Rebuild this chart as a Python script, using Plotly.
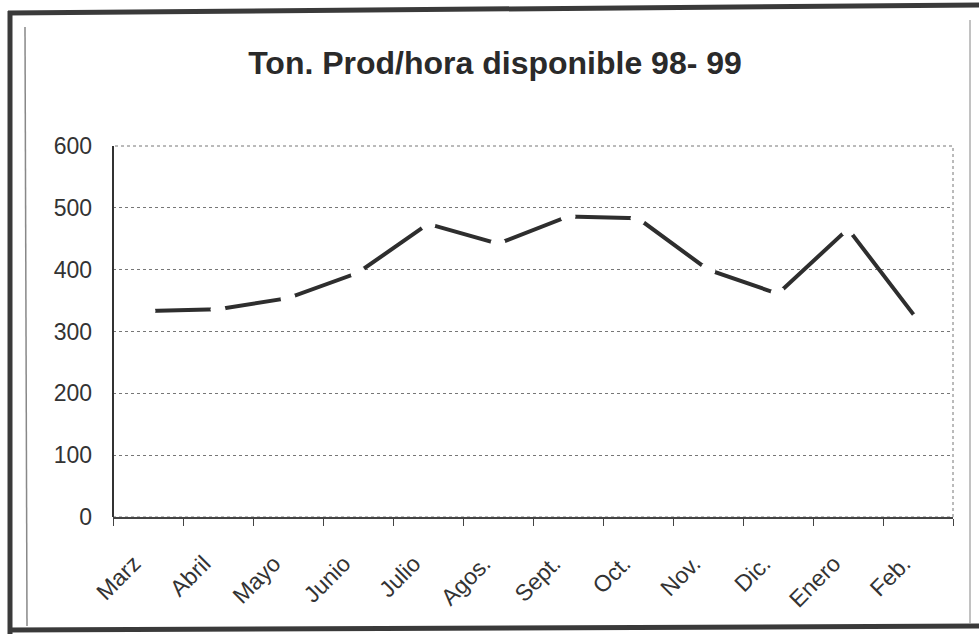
import plotly.graph_objects as go

# Monthly available production, tonnes per hour, season 98-99
months = ["Marz", "Abril", "Mayo", "Junio", "Julio", "Agos.", "Sept.",
          "Oct.", "Nov.", "Dic.", "Enero", "Feb."]
ton_hora = [333, 336, 354, 395, 474, 442, 486, 483, 400, 361, 466, 318]
y_ticks = [0, 100, 200, 300, 400, 500, 600]

W, H = 979, 634
L, R, T, B = 113, 953, 146, 517  # plot area in pixels


def px_x(x):
    return (x - L) / (R - L)


def px_y(y):
    return (B - y) / (B - T)


fig = go.Figure()

# series line; white dots at each month break the stroke at the vertices
fig.add_trace(go.Scatter(
    x=months, y=ton_hora, mode="lines+markers",
    line=dict(color="#2e2e2e", width=4),
    marker=dict(color="white", size=15, line=dict(width=0)),
    hoverinfo="x+y", showlegend=False,
))

shapes = []
# dotted plot-area border
shapes.append(dict(type="rect", xref="paper", yref="paper", x0=0, x1=1, y0=0, y1=1,
                   line=dict(color="#777777", width=1, dash="dot"), layer="below"))
# solid value axis on the left
shapes.append(dict(type="line", xref="paper", yref="paper", x0=0, x1=0, y0=0, y1=1,
                   line=dict(color="#333333", width=2)))
# outer page frame (dark) and chart-area outline (thin)
frame = "#3a3a3a"
shapes.append(dict(type="line", xref="paper", yref="paper",
                   x0=px_x(8), y0=px_y(13), x1=px_x(979), y1=px_y(5),
                   line=dict(color=frame, width=5)))
shapes.append(dict(type="line", xref="paper", yref="paper",
                   x0=px_x(10), y0=px_y(11), x1=px_x(10), y1=px_y(634),
                   line=dict(color=frame, width=5)))
shapes.append(dict(type="line", xref="paper", yref="paper",
                   x0=px_x(8), y0=px_y(630), x1=px_x(979), y1=px_y(626),
                   line=dict(color=frame, width=5)))
shapes.append(dict(type="line", xref="paper", yref="paper",
                   x0=px_x(25), y0=px_y(27), x1=px_x(27), y1=px_y(626),
                   line=dict(color="#888888", width=1.5)))
shapes.append(dict(type="line", xref="paper", yref="paper",
                   x0=px_x(970), y0=px_y(20), x1=px_x(970), y1=px_y(624),
                   line=dict(color="#999999", width=1.2)))

fig.update_layout(
    width=W, height=H,
    margin=dict(l=L, r=W - R, t=T, b=H - B, pad=0),
    paper_bgcolor="white", plot_bgcolor="white",
    title=dict(text="<b>Ton. Prod/hora disponible 98- 99</b>",
               x=495 / W, xanchor="center", y=1 - 63 / H, yanchor="middle",
               font=dict(family="Liberation Sans, Arial", size=32, color="#2a2a2a")),
    font=dict(family="Liberation Sans, Arial", color="#333333"),
    shapes=shapes,
    xaxis=dict(
        type="category", range=[-0.5, len(months) - 0.5],
        showgrid=False, zeroline=False,
        showline=True, linecolor="#444444", linewidth=2,
        ticks="outside", tickson="boundaries", ticklen=7, tickcolor="#444444", tickwidth=1,
        tickangle=-45, tickfont=dict(size=23, color="#333333"),
        ticklabelstandoff=22, ticklabelshift=-14,
    ),
    yaxis=dict(
        range=[0, 600], tickvals=y_ticks, ticktext=[str(v) for v in y_ticks],
        showgrid=True, gridcolor="#777777", gridwidth=1, griddash="dot",
        zeroline=False, showline=False, ticks="",
        tickfont=dict(size=23, color="#333333"),
        ticklabelstandoff=20,
    ),
)

fig.write_html("out.html")
